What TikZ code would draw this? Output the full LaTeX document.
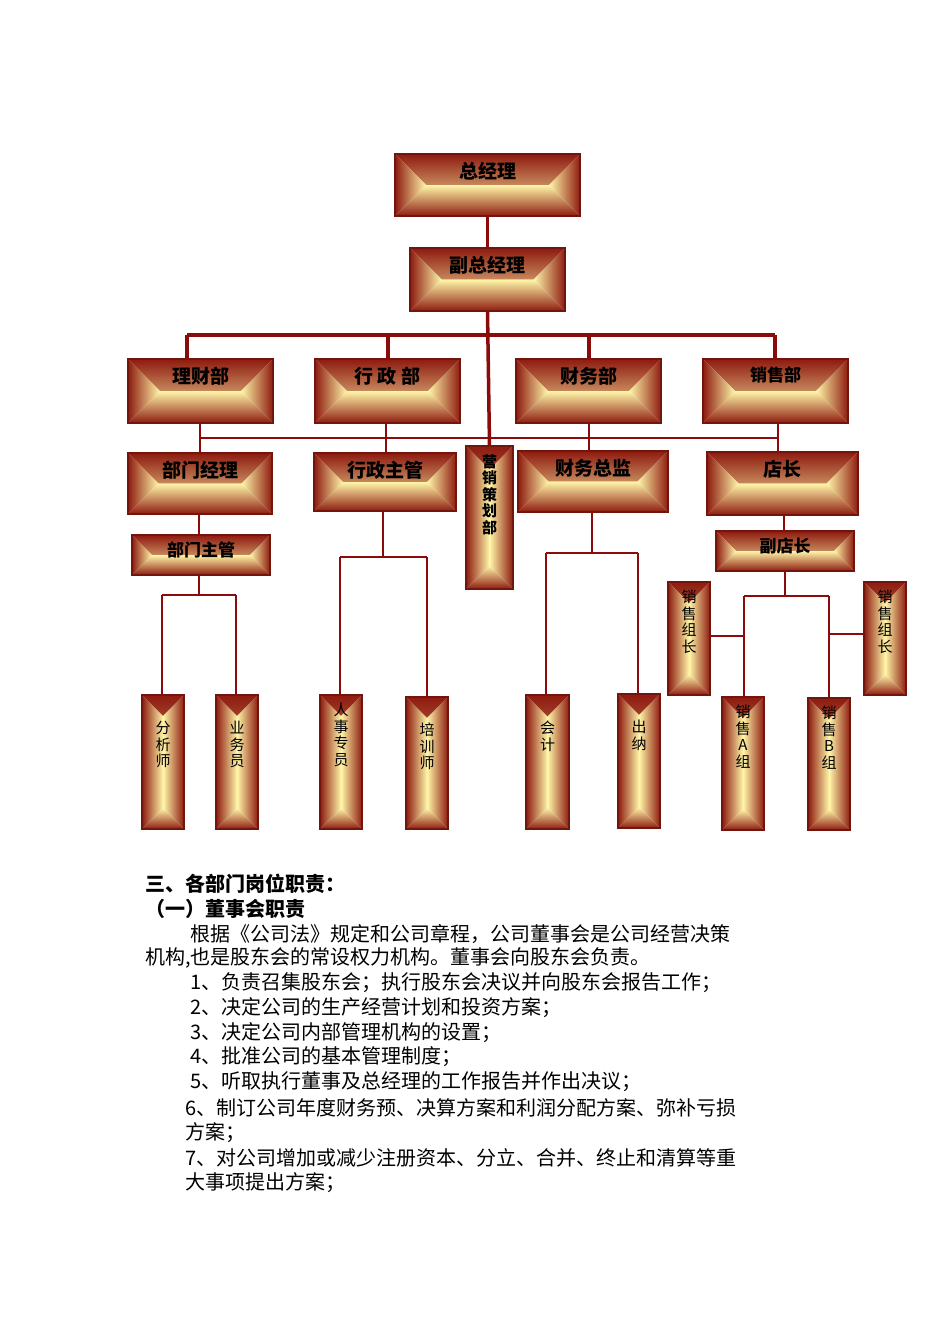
\documentclass[tikz,border=0pt]{standalone}
\usepackage{fontspec}
\setmainfont{Noto Sans CJK SC}
\definecolor{edge}{HTML}{8E1B10}
\definecolor{gold}{HTML}{C98A3C}
\definecolor{inner}{HTML}{FFF6A8}
\definecolor{ln}{HTML}{8B0A0A}
\newdimen\bxa \newdimen\bya \newdimen\bxb \newdimen\byb \newdimen\bdd
\tikzset{
 bevel/.style={draw=edge!80!black,line width=1.2pt,inner sep=0pt,outer sep=0pt,path picture={
  \pgfextractx{\bxa}{\pgfpointanchor{path picture bounding box}{south west}}
  \pgfextracty{\bya}{\pgfpointanchor{path picture bounding box}{south west}}
  \pgfextractx{\bxb}{\pgfpointanchor{path picture bounding box}{north east}}
  \pgfextracty{\byb}{\pgfpointanchor{path picture bounding box}{north east}}
  \pgfmathsetlength{\bdd}{min(\bxb-\bxa,\byb-\bya)/2}
  \shade[top color=edge,middle color=gold,bottom color=inner] (\bxa,\byb)--(\bxb,\byb)--(\bxb-\bdd,\byb-\bdd)--(\bxa+\bdd,\byb-\bdd)--cycle;
  \shade[bottom color=edge,middle color=gold,top color=inner] (\bxa,\bya)--(\bxb,\bya)--(\bxb-\bdd,\bya+\bdd)--(\bxa+\bdd,\bya+\bdd)--cycle;
  \shade[left color=edge,middle color=gold,right color=inner] (\bxa,\bya)--(\bxa,\byb)--(\bxa+\bdd,\byb-\bdd)--(\bxa+\bdd,\bya+\bdd)--cycle;
  \shade[right color=edge,middle color=gold,left color=inner] (\bxb,\bya)--(\bxb,\byb)--(\bxb-\bdd,\byb-\bdd)--(\bxb-\bdd,\bya+\bdd)--cycle;
 }},
 htxt/.style={anchor=north,font=\fontsize{19}{20}\selectfont\bfseries,inner sep=0pt},
 vtxt/.style={anchor=north,font=\fontsize{15}{16.5}\selectfont,align=center,inner sep=0pt},
 thick line/.style={draw=ln,line width=3.5pt},
 thin line/.style={draw=ln,line width=2pt},
 body/.style={anchor=west,font=\fontsize{20}{22}\selectfont,inner sep=0pt},
}
\newcommand{\bb}[6]{\node[bevel,minimum width=#4pt-#2pt,minimum height=#5pt-#3pt] (#1) at ({(#2+#4)/2},{(#3+#5)/2}) {};
 \node[htxt] (#1t) at ([yshift=-#6pt]#1.north) {};}
\newcommand{\hb}[7]{\node[bevel,minimum width=#4pt-#2pt,minimum height=#5pt-#3pt] (#1) at ({(#2+#4)/2},{(#3+#5)/2}) {};
 \node[htxt] (#1t) at ([yshift=-#6pt]#1.north) {#7};}
\newcommand{\vb}[7]{\node[bevel,minimum width=#4pt-#2pt,minimum height=#5pt-#3pt] (#1) at ({(#2+#4)/2},{(#3+#5)/2}) {};
 \node[vtxt] (#1t) at ([yshift=-#6pt]#1.north) {#7};}
\begin{document}
\begin{tikzpicture}[x=1pt,y=-1pt]
\useasboundingbox[fill=white] (0,0) rectangle (950,1344);
% connectors first
\coordinate (h1l) at (187,335); \coordinate (h1r) at (775,335);
\coordinate (h2l) at (200,438); \coordinate (h2r) at (778,438);
\hb{zjl}{395}{154}{580}{216}{8}{总经理}
\hb{fzjl}{410}{248}{565}{311}{8}{副总经理}
\hb{lcb}{128}{359}{273}{423}{8}{理财部}
\hb{xzb}{315}{359}{460}{423}{8}{行 政 部}
\hb{cwb}{516}{359}{661}{423}{8}{财务部}
\hb{xsb}{703}{359}{848}{423}{8}{\fontsize{17}{18}\selectfont 销售部}
\hb{bmjl}{128}{453}{272}{514}{8}{部门经理}
\hb{xzzg}{314}{453}{456}{511}{8}{行政主管}
\vb{yxch}{466}{446}{513}{589}{8}{\bfseries 营\\\bfseries 销\\\bfseries 策\\\bfseries 划\\\bfseries 部}
\hb{cwzj}{518}{451}{668}{512}{8}{财务总监}
\hb{dz}{707}{452}{858}{515}{8}{店长}
\hb{bmzg}{132}{535}{270}{575}{7}{\fontsize{17}{18}\selectfont 部门主管}
\hb{fdz}{716}{531}{854}{571}{7}{\fontsize{17}{18}\selectfont 副店长}
\vb{fxs}{142}{695}{184}{829}{26}{分\\析\\师}
\vb{ywy}{216}{695}{258}{829}{26}{业\\务\\员}
\vb{rszy}{320}{695}{362}{829}{8}{人\\事\\专\\员}
\vb{pxs}{406}{697}{448}{829}{26}{培\\训\\师}
\vb{kj}{526}{695}{569}{829}{26}{会\\计}
\vb{cn}{618}{694}{660}{828}{26}{出\\纳}
\vb{xszl}{668}{582}{710}{695}{8}{销\\售\\组\\长}
\vb{xszr}{864}{582}{906}{695}{8}{销\\售\\组\\长}
\vb{xsa}{722}{697}{764}{830}{8}{销\\售\\A\\组}
\vb{xsbz}{808}{698}{850}{830}{8}{销\\售\\B\\组}
% lines
\draw[thick line] (zjl.south) -- (fzjl.north);
\draw[thick line] (fzjl.south) -- (yxch.north);
\draw[thick line] (h1l) -- (h1r);
\draw[thick line] (h1l) -- (h1l|-lcb.north);
\draw[thick line] (388,335) -- (388,359);
\draw[thick line] (589,335) -- (589,359);
\draw[thick line] (h1r) -- (h1r|-xsb.north);
\draw[thin line] (h2l) -- (h2r);
\draw[thin line] (200,423) -- (200,453);
\draw[thin line] (386,423) -- (386,453);
\draw[thin line] (589,423) -- (589,451);
\draw[thin line] (778,423) -- (778,452);
\draw[thin line] (199,514) -- (199,535);
\draw[thin line] (199,575) -- (199,595) (162,595) -- (236,595);
\draw[thin line] (162,595) -- (fxs.north-|162,0);
\draw[thin line] (236,595) -- (ywy.north-|236,0);
\draw[thin line] (383,511) -- (383,557) (340,557) -- (427,557);
\draw[thin line] (340,557) -- (rszy.north-|340,0);
\draw[thin line] (427,557) -- (pxs.north-|427,0);
\draw[thin line] (592,512) -- (592,553) (546,553) -- (638,553);
\draw[thin line] (546,553) -- (kj.north-|546,0);
\draw[thin line] (638,553) -- (cn.north-|638,0);
\draw[thin line] (784,515) -- (784,531);
\draw[thin line] (785,571) -- (785,596) (744,596) -- (829,596);
\draw[thin line] (744,596) -- (xsa.north-|744,0);
\draw[thin line] (829,596) -- (xsbz.north-|829,0);
\draw[thin line] (xszl.east|-0,636) -- (744,636);
\draw[thin line] (829,634) -- (xszr.west|-0,634);
% body text
\node[body,font=\fontsize{20}{22}\selectfont\bfseries] (t1) at (145,884) {三、各部门岗位职责：};
\node[body,font=\fontsize{20}{22}\selectfont\bfseries] (t2) at (145,909) {（一）董事会职责};
\node[body] (t3) at (190,934) {根据《公司法》规定和公司章程，公司董事会是公司经营决策};
\node[body] (t4) at (145,958) {机构,也是股东会的常设权力机构。董事会向股东会负责。};
\node[body] (t5) at (190,983) {1、负责召集股东会；执行股东会决议并向股东会报告工作；};
\node[body] (t6) at (190,1008) {2、决定公司的生产经营计划和投资方案；};
\node[body] (t7) at (190,1033) {3、决定公司内部管理机构的设置；};
\node[body] (t8) at (190,1057) {4、批准公司的基本管理制度；};
\node[body] (t9) at (190,1082) {5、听取执行董事及总经理的工作报告并作出决议；};
\node[body] (t10) at (185,1108) {6、制订公司年度财务预、决算方案和利润分配方案、弥补亏损};
\node[body] (t11) at (185,1133) {方案；};
\node[body] (t12) at (185,1158) {7、对公司增加或减少注册资本、分立、合并、终止和清算等重};
\node[body] (t13) at (185,1183) {大事项提出方案；};
\end{tikzpicture}
\end{document}
